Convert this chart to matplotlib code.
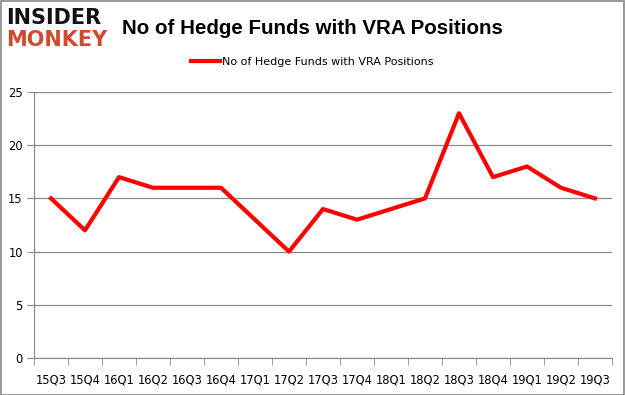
import matplotlib
matplotlib.use("Agg")
import matplotlib.pyplot as plt
from matplotlib.patches import Rectangle

quarters = ["15Q3", "15Q4", "16Q1", "16Q2", "16Q3", "16Q4", "17Q1", "17Q2", "17Q3",
            "17Q4", "18Q1", "18Q2", "18Q3", "18Q4", "19Q1", "19Q2", "19Q3"]
funds = [15, 12, 17, 16, 16, 16, 13, 10, 14, 13, 14, 15, 23, 17, 18, 16, 15]
yticks = [0, 5, 10, 15, 20, 25]
series_label = "No of Hedge Funds with VRA Positions"
title = "No of Hedge Funds with VRA Positions"

W, H = 625, 395
fig = plt.figure(figsize=(W / 100, H / 100), dpi=100)
fig.patch.set_facecolor("white")
fig.add_artist(Rectangle((0.5 / W, 0.5 / H), 1 - 1.5 / W, 1 - 1.5 / H, transform=fig.transFigure,
                         fill=False, edgecolor="#888888", linewidth=1.2))

left, right, top, bottom = 34, 612, 92, 358
ax = fig.add_axes([left / W, 1 - bottom / H, (right - left) / W, (bottom - top) / H])
x = list(range(len(quarters)))
ax.plot(x, funds, color="#ff0000", linewidth=3, label=series_label, solid_joinstyle="round")
ax.set_xlim(-0.5, len(quarters) - 0.5)
ax.set_ylim(0, 25)
ax.set_yticks(yticks)
ax.set_yticklabels([str(v) for v in yticks])
ax.set_xticks(x)
ax.set_xticklabels(quarters)
ax.set_xticks([i - 0.5 for i in range(len(quarters) + 1)], minor=True)
ax.tick_params(axis="x", which="major", length=0, pad=11, labelsize=8.3)
ax.tick_params(axis="x", which="minor", length=5, color="#888888", direction="out")
ax.tick_params(axis="y", length=5, color="#888888", labelsize=8.3, pad=3)
ax.grid(axis="y", color="#888888", linewidth=0.9)
ax.set_axisbelow(True)
for s in ["top", "right"]:
    ax.spines[s].set_visible(False)
ax.spines["left"].set_color("#888888")
ax.spines["bottom"].set_color("#888888")

fig.legend(loc="center", bbox_to_anchor=(312 / W, 1 - 62 / H), frameon=False, fontsize=8,
           handlelength=2.6, handletextpad=0.2)

fig.text(312 / W, 1 - 29 / H, title, ha="center", va="center", fontsize=14.8, fontweight="bold",
         family="Liberation Sans")
fig.text(6 / W, 1 - 18 / H, "INSIDER", ha="left", va="center", fontsize=15, fontweight="bold",
         color="#111111", family="DejaVu Sans")
fig.text(6 / W, 1 - 40 / H, "MONKEY", ha="left", va="center", fontsize=15, fontweight="bold",
         color="#d04a30", family="DejaVu Sans")

fig.savefig("out.png", dpi=100)
